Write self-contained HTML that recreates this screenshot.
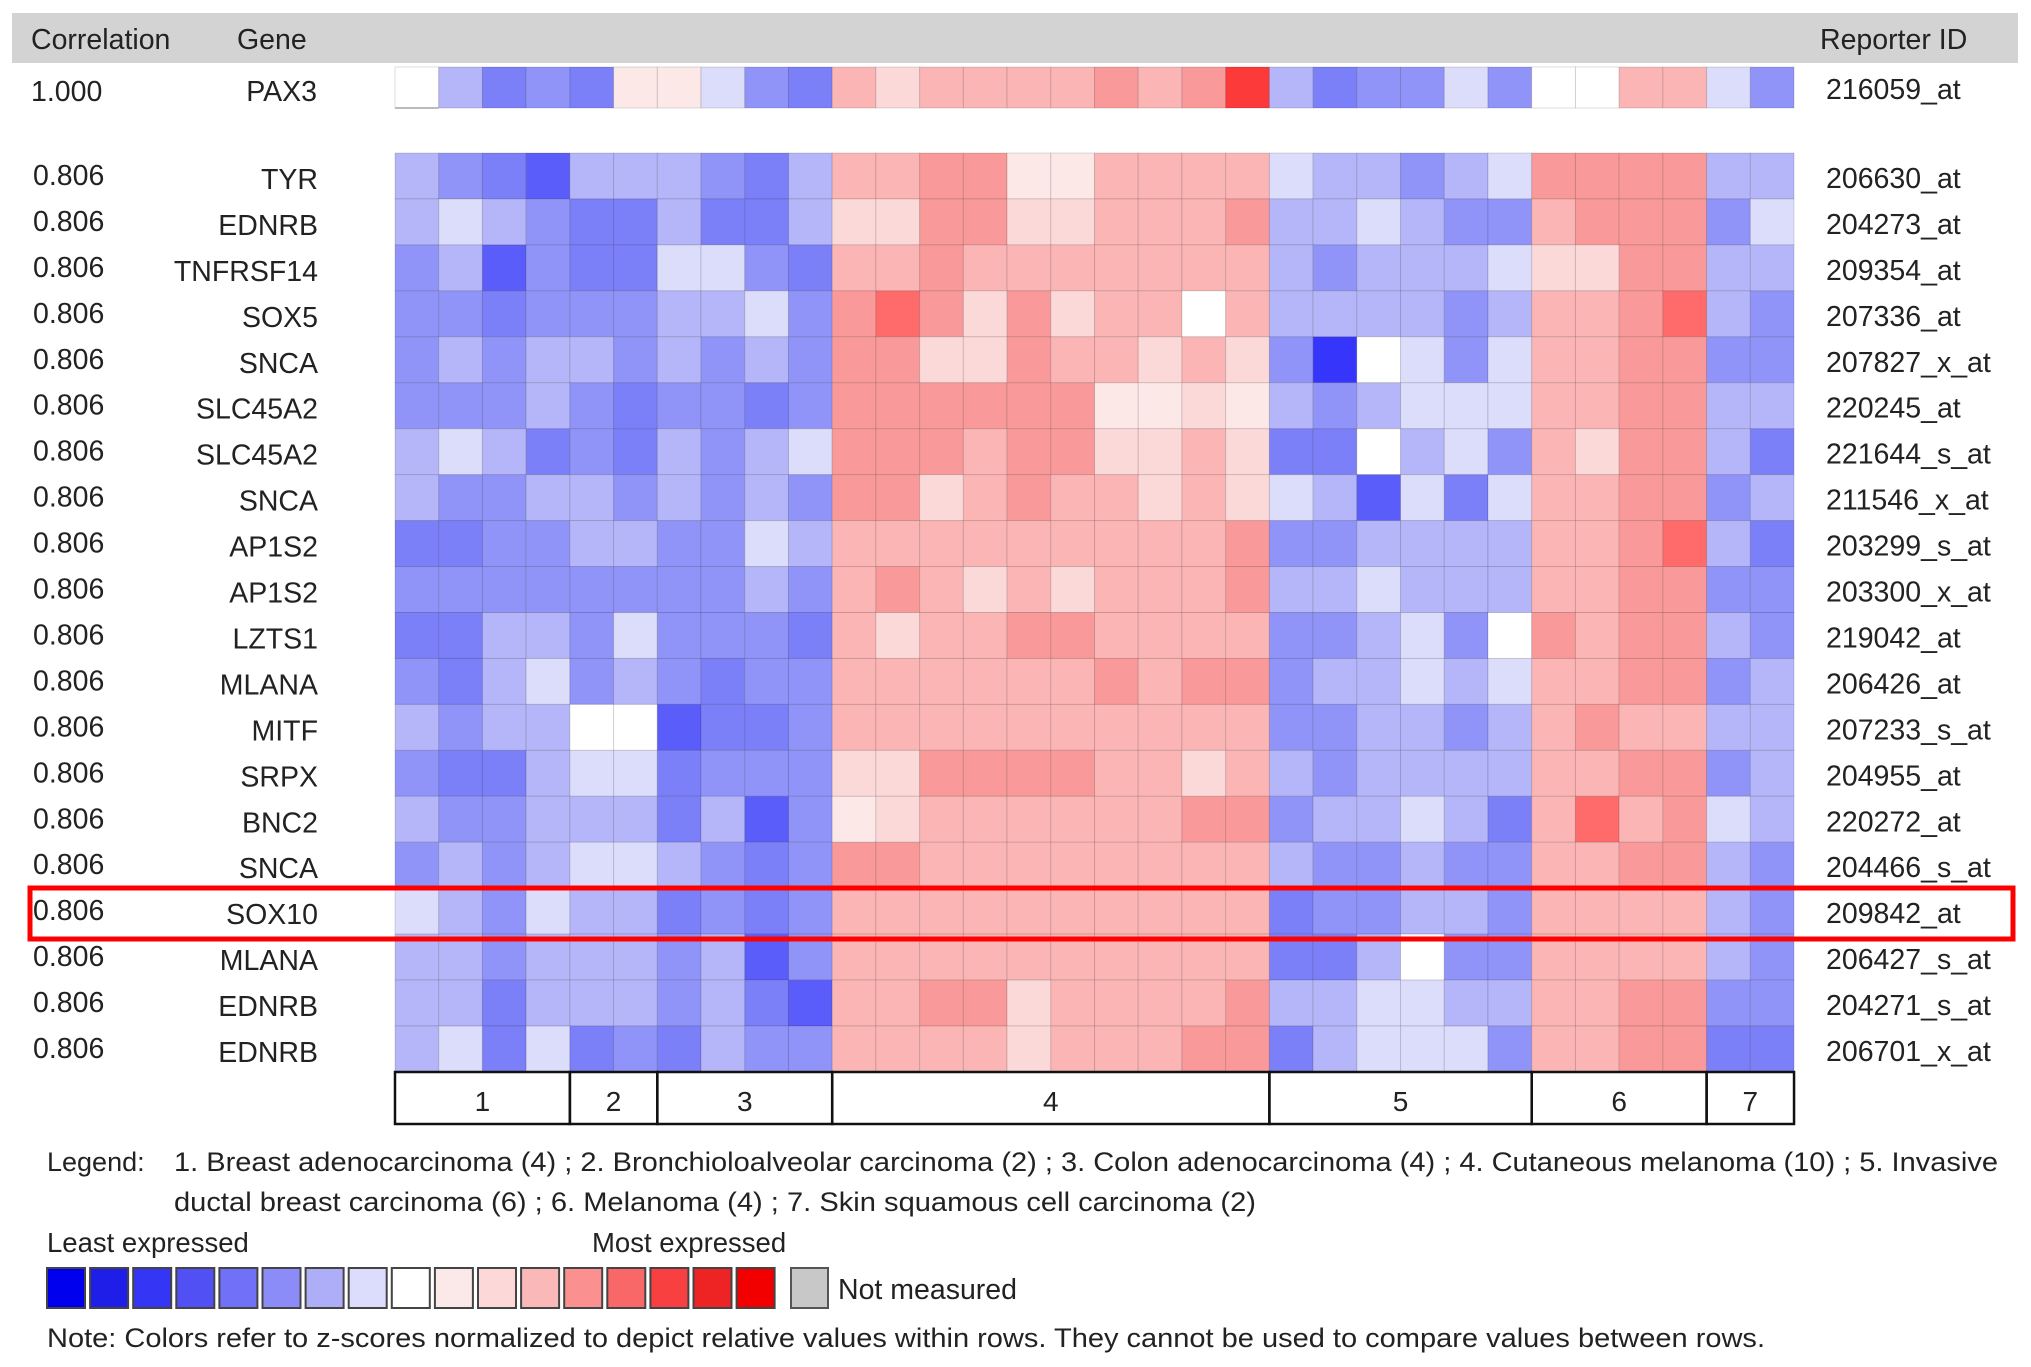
<!DOCTYPE html>
<html><head><meta charset="utf-8"><style>
html,body{margin:0;padding:0;background:#fff;}
svg{display:block;font-family:"Liberation Sans",Arial,sans-serif;}
</style></head><body>
<svg id="chart" width="2031" height="1367" viewBox="0 0 2031 1367" xmlns="http://www.w3.org/2000/svg">
<rect x="12" y="13" width="2006" height="50" fill="#d3d3d3"/>
<text x="31" y="49" font-size="28.5" fill="#222">Correlation</text>
<text x="237" y="49" font-size="28.5" fill="#222">Gene</text>
<text x="1820" y="49" font-size="28.5" fill="#222">Reporter ID</text>
<g id="cells"></g>
<g id="labels"></g>
<g id="groups"></g>
<rect x="30" y="888" width="1983" height="51" fill="none" stroke="#ff0000" stroke-width="5"/>
<text x="47" y="1171" font-size="27" fill="#222">Legend:</text>
<text x="174" y="1171" font-size="27" fill="#222" textLength="1824" lengthAdjust="spacingAndGlyphs">1. Breast adenocarcinoma (4) ; 2. Bronchioloalveolar carcinoma (2) ; 3. Colon adenocarcinoma (4) ; 4. Cutaneous melanoma (10) ; 5. Invasive</text>
<text x="174" y="1211" font-size="27" fill="#222" textLength="1082" lengthAdjust="spacingAndGlyphs">ductal breast carcinoma (6) ; 6. Melanoma (4) ; 7. Skin squamous cell carcinoma (2)</text>
<text x="47" y="1252" font-size="27.5" fill="#222">Least expressed</text>
<text x="592" y="1252" font-size="27.5" fill="#222">Most expressed</text>
<g id="scale"></g>
<rect x="791" y="1268" width="37" height="40" fill="#c8c8c8" stroke="#555" stroke-width="2"/>
<text x="838" y="1299" font-size="28.5" fill="#222">Not measured</text>
<text x="47" y="1347" font-size="27" fill="#222" textLength="1718" lengthAdjust="spacingAndGlyphs">Note: Colors refer to z-scores normalized to depict relative values within rows. They cannot be used to compare values between rows.</text>
</svg>
<script>
const genes = ["TYR","EDNRB","TNFRSF14","SOX5","SNCA","SLC45A2","SLC45A2","SNCA","AP1S2","AP1S2","LZTS1","MLANA","MITF","SRPX","BNC2","SNCA","SOX10","MLANA","EDNRB","EDNRB"];
const reporters = ["206630_at","204273_at","209354_at","207336_at","207827_x_at","220245_at","221644_s_at","211546_x_at","203299_s_at","203300_x_at","219042_at","206426_at","207233_s_at","204955_at","220272_at","204466_s_at","209842_at","206427_s_at","204271_s_at","206701_x_at"];
const correlations = ["0.806","0.806","0.806","0.806","0.806","0.806","0.806","0.806","0.806","0.806","0.806","0.806","0.806","0.806","0.806","0.806","0.806","0.806","0.806","0.806"];
const pax3Values = [0,-2,-4,-3,-4,1,1,-1,-3,-4,3,2,3,3,3,3,4,3,4,6,-2,-4,-3,-3,-1,-3,0,0,3,3,-1,-3];
const values = [
[-2,-3,-4,-5,-2,-2,-2,-3,-4,-2,3,3,4,4,1,1,3,3,3,3,-1,-2,-2,-3,-2,-1,4,4,4,4,-2,-2],
[-2,-1,-2,-3,-4,-4,-2,-4,-4,-2,2,2,4,4,2,2,3,3,3,4,-2,-2,-1,-2,-3,-3,3,4,4,4,-3,-1],
[-3,-2,-5,-3,-4,-4,-1,-1,-3,-4,3,3,4,3,3,3,3,3,3,3,-2,-3,-2,-2,-2,-1,2,2,4,4,-2,-2],
[-3,-3,-4,-3,-3,-3,-2,-2,-1,-3,4,5,4,2,4,2,3,3,0,3,-2,-2,-2,-2,-3,-2,3,3,4,5,-2,-3],
[-3,-2,-3,-2,-2,-3,-2,-3,-2,-3,4,4,2,2,4,3,3,2,3,2,-3,-6,0,-1,-3,-1,3,3,4,4,-3,-3],
[-3,-3,-3,-2,-3,-4,-3,-3,-4,-3,4,4,4,4,4,4,1,1,2,1,-2,-3,-2,-1,-1,-1,3,3,4,4,-2,-2],
[-2,-1,-2,-4,-3,-4,-2,-3,-2,-1,4,4,4,3,4,4,2,2,3,2,-4,-4,0,-2,-1,-3,3,2,4,4,-2,-4],
[-2,-3,-3,-2,-2,-3,-2,-3,-2,-3,4,4,2,3,4,3,3,2,3,2,-1,-2,-5,-1,-4,-1,3,3,4,4,-3,-2],
[-4,-4,-3,-3,-2,-2,-3,-3,-1,-2,3,3,3,3,3,3,3,3,3,4,-3,-3,-2,-2,-2,-2,3,3,4,5,-2,-4],
[-3,-3,-3,-3,-3,-3,-3,-3,-2,-3,3,4,3,2,3,2,3,3,3,4,-2,-2,-1,-2,-2,-2,3,3,4,4,-3,-3],
[-4,-4,-2,-2,-3,-1,-3,-3,-3,-4,3,2,3,3,4,4,3,3,3,3,-3,-3,-2,-1,-3,0,4,3,4,4,-2,-3],
[-3,-4,-2,-1,-3,-2,-3,-4,-3,-3,3,3,3,3,3,3,4,3,4,4,-3,-2,-2,-1,-2,-1,3,3,4,4,-3,-2],
[-2,-3,-2,-2,0,0,-5,-4,-4,-3,3,3,3,3,3,3,3,3,3,3,-3,-3,-2,-2,-3,-2,3,4,3,3,-2,-2],
[-3,-4,-4,-2,-1,-1,-4,-3,-3,-3,2,2,4,4,4,4,3,3,2,3,-2,-3,-2,-2,-2,-2,3,3,4,4,-3,-2],
[-2,-3,-3,-2,-2,-2,-4,-2,-5,-3,1,2,3,3,3,3,3,3,4,4,-3,-2,-2,-1,-2,-4,3,5,3,4,-1,-2],
[-3,-2,-3,-2,-1,-1,-2,-3,-4,-3,4,4,3,3,3,3,3,3,3,3,-2,-3,-3,-2,-3,-3,3,3,4,4,-2,-3],
[-1,-2,-3,-1,-2,-2,-4,-3,-4,-3,3,3,3,3,3,3,3,3,3,3,-4,-3,-3,-2,-2,-3,3,3,3,3,-2,-3],
[-2,-2,-3,-2,-2,-2,-3,-2,-5,-3,3,3,3,3,3,3,3,3,3,3,-4,-4,-2,0,-3,-3,3,3,3,3,-2,-3],
[-2,-2,-4,-2,-2,-2,-3,-2,-4,-5,3,3,4,4,2,3,3,3,3,4,-2,-2,-1,-1,-2,-2,3,3,4,4,-3,-3],
[-2,-1,-4,-1,-4,-3,-4,-2,-3,-3,3,3,3,3,2,3,3,3,4,4,-4,-2,-1,-1,-1,-3,3,3,4,4,-4,-4]
];
const groupLabels = ["1","2","3","4","5","6","7"];
const groupSizes = [4,2,4,10,6,4,2];
const scaleColors = ["#0000ee","#1e1ee8","#3535f5","#5050f5","#7070f8","#8c8cf8","#aeaef8","#dcdcfc","#ffffff","#fbe8e8","#fcd8d8","#fbb8b8","#fa9090","#f86868","#f84040","#ee2424","#f20000"];

const NS="http://www.w3.org/2000/svg";
const X0=395, CW=43.72, PY=67, PH=41, Y0=153, RH=45.95;
const xPos=c=>X0+c*CW, yPos=r=>Y0+r*RH;
const pal={"-6":"#3535fc","-5":"#5b5dfa","-4":"#7b7ff8","-3":"#9094f8","-2":"#b4b6f9","-1":"#dcdcfb","0":"#ffffff","1":"#fde8e8","2":"#fcd9d9","3":"#fbb5b5","4":"#f99999","5":"#ff6b6b","6":"#fc3a3a"};
function mk(tag,attrs,parent){const e=document.createElementNS(NS,tag);for(const k in attrs)e.setAttribute(k,attrs[k]);parent.appendChild(e);return e;}
const cells=document.getElementById('cells');
pax3Values.forEach((v,c)=>{
  const r=mk('rect',{x:xPos(c),y:PY,width:CW,height:PH,fill:pal[v],stroke:'rgba(0,0,0,0.13)','stroke-width':1},cells);
  
  
});
const pl=mk('line',{x1:X0,y1:PY+PH,x2:X0+CW,y2:PY+PH,stroke:'#bbb','stroke-width':2},cells);


values.forEach((row,ri)=>row.forEach((v,c)=>{
  const r=mk('rect',{x:xPos(c),y:yPos(ri),width:CW,height:RH,fill:pal[v],stroke:'rgba(0,0,0,0.13)','stroke-width':1},cells);
  
  
}));
const labels=document.getElementById('labels');
function txt(s,attrs,name){const t=mk('text',Object.assign({'font-size':28.5,fill:'#222'},attrs),labels);t.textContent=s;return t;}
txt("1.000",{x:31,y:101},'pax3-correlation');
txt("PAX3",{x:317,y:101,'text-anchor':'end'},'pax3-gene');
txt("216059_at",{x:1826,y:99},'pax3-reporter');
genes.forEach((g,i)=>{
  const cy=yPos(i)+RH/2;
  txt(correlations[i],{x:33,y:cy+9},'correlation-value');
  txt(g,{x:318,y:cy+13,'text-anchor':'end'},'gene-label');
  txt(reporters[i],{x:1826,y:cy+12},'reporter-id');
});
const groups=document.getElementById('groups');
let c0=0;
groupSizes.forEach((n,i)=>{
  const x=xPos(c0),w=n*CW;
  const r=mk('rect',{x:x,y:1072,width:w,height:52,fill:'none',stroke:'#111','stroke-width':2.5},groups);
  
  
  const t=mk('text',{x:x+w/2,y:1111,'font-size':28,fill:'#222','text-anchor':'middle'},groups);
  t.textContent=groupLabels[i];
  
  
  c0+=n;
});
const scale=document.getElementById('scale');
scaleColors.forEach((col,i)=>{
  const r=mk('rect',{x:47+i*43.1,y:1268,width:38,height:40,fill:col,stroke:'#444','stroke-width':2},scale);
  
  
});
</script>
</body></html>
